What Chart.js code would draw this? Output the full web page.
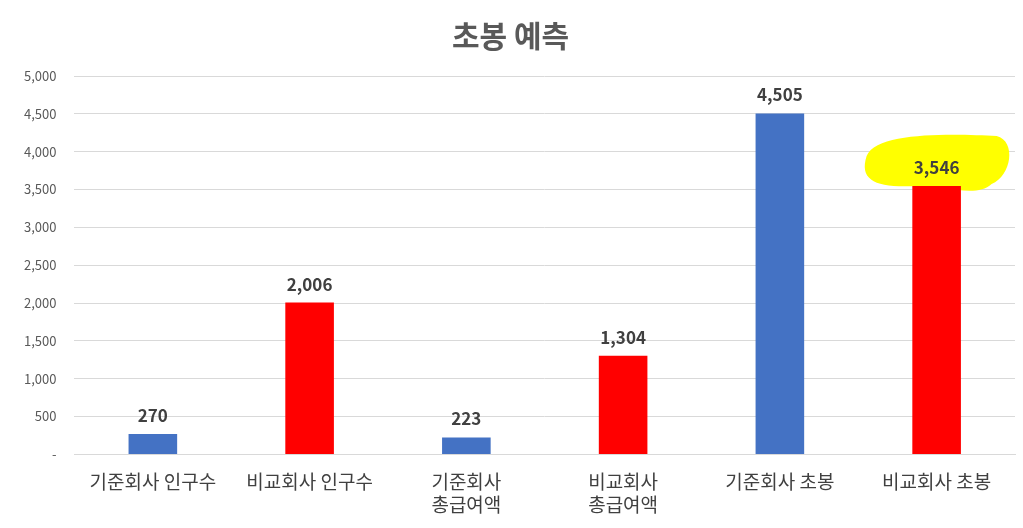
<!DOCTYPE html>
<html>
<head>
<meta charset="utf-8">
<script src="https://cdn.jsdelivr.net/npm/chart.js@4"></script>
<style>
  body { margin: 0; background: #fff; }
  #wrap { width: 1023px; height: 528px; }
</style>
</head>
<body>
<div id="wrap"><canvas id="chart"></canvas></div>
<script>
const labels = [
  '기준회사 인구수', '비교회사 인구수', ['기준회사', '총급여액'],
  ['비교회사', '총급여액'], '기준회사 초봉', '비교회사 초봉'
];
const values = [270, 2006, 223, 1304, 4505, 3546];
const colors = ['#4472C4', '#FF0000', '#4472C4', '#FF0000', '#4472C4', '#FF0000'];
const highlightIndex = 5;

const font = "'Noto Sans CJK KR', 'Noto Sans', sans-serif";

// yellow marker blob behind the highlighted label + value labels on top
const barLabels = {
  id: 'barLabels',
  beforeDatasetsDraw(chart) {
    const ctx = chart.ctx;
    const bar = chart.getDatasetMeta(0).data[highlightIndex];
    const cx = bar.x, cy = bar.y - 20;
    ctx.save();
    ctx.fillStyle = '#FFFF00';
    ctx.beginPath();
    ctx.moveTo(cx - 70, cy - 10);
    ctx.bezierCurveTo(cx - 60, cy - 35, cx + 20, cy - 32, cx + 60, cy - 30);
    ctx.bezierCurveTo(cx + 80, cy - 25, cx + 75, cy + 10, cx + 55, cy + 18);
    ctx.bezierCurveTo(cx + 40, cy + 32, cx + 10, cy + 20, cx - 20, cy + 20);
    ctx.bezierCurveTo(cx - 60, cy + 22, cx - 78, cy + 15, cx - 70, cy - 10);
    ctx.fill();
    ctx.restore();
  },
  afterDatasetsDraw(chart) {
    const ctx = chart.ctx;
    ctx.save();
    ctx.font = 'bold 17px ' + font;
    ctx.fillStyle = '#404040';
    ctx.textAlign = 'center';
    ctx.textBaseline = 'bottom';
    chart.getDatasetMeta(0).data.forEach((b, i) => {
      ctx.fillText(values[i].toLocaleString('en-US'), b.x, b.y - 10);
    });
    ctx.restore();
  }
};

new Chart(document.getElementById('chart'), {
  type: 'bar',
  data: {
    labels: labels,
    datasets: [{
      data: values,
      backgroundColor: colors,
      barPercentage: 0.31,
      categoryPercentage: 1
    }]
  },
  options: {
    responsive: true,
    maintainAspectRatio: false,
    animation: false,
    layout: { padding: { left: 6, right: 8, top: 8, bottom: 4 } },
    plugins: {
      legend: { display: false },
      tooltip: { enabled: false },
      title: {
        display: true,
        text: '초봉 예측',
        color: '#595959',
        font: { family: font, size: 30, weight: 'bold' },
        padding: { top: 10, bottom: 22 }
      }
    },
    scales: {
      x: {
        grid: { display: false },
        border: { color: '#D9D9D9' },
        ticks: {
          color: '#404040',
          font: { family: font, size: 19 },
          maxRotation: 0,
          autoSkip: false,
          padding: 8
        }
      },
      y: {
        min: 0,
        max: 5000,
        grid: { color: '#D9D9D9', drawTicks: false },
        border: { display: false },
        ticks: {
          stepSize: 500,
          color: '#595959',
          font: { family: font, size: 13 },
          padding: 18,
          callback: v => v === 0 ? '-' : v.toLocaleString('en-US')
        }
      }
    }
  },
  plugins: [barLabels]
});
</script>
</body>
</html>
